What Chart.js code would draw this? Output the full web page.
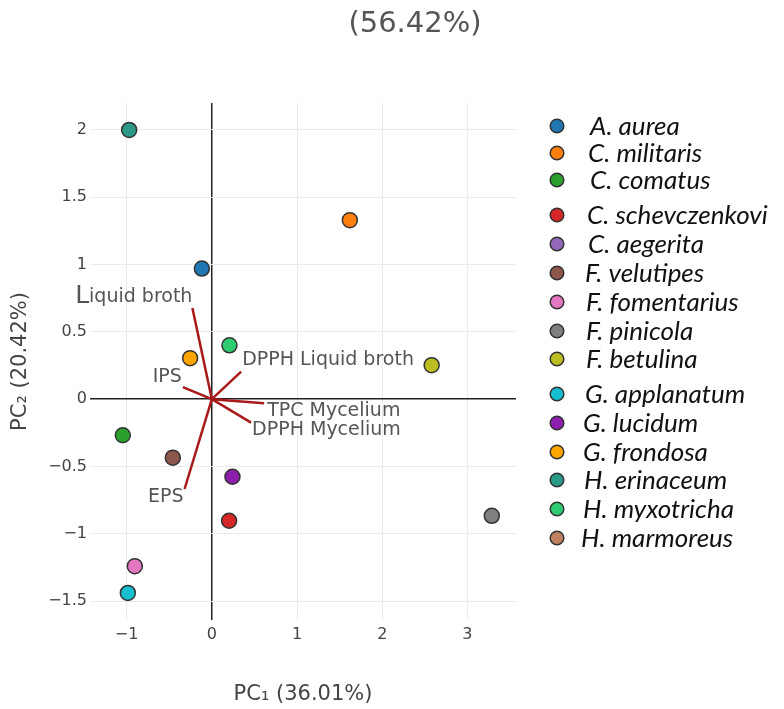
<!DOCTYPE html>
<html>
<head>
<meta charset="utf-8">
<title>PCA biplot</title>
<script src="https://cdn.jsdelivr.net/npm/chart.js@4.4.1/dist/chart.umd.min.js"></script>
<style>
  html, body { margin: 0; padding: 0; background: #ffffff; }
  #wrap { width: 784px; height: 709px; position: relative; }
</style>
</head>
<body>
<div id="wrap"><canvas id="biplot" width="784" height="709"></canvas></div>
<script>
// Species and their PCA scores (PC1, PC2); null = no score plotted
const species = ['A. aurea', 'C. militaris', 'C. comatus', 'C. schevczenkovi', 'C. aegerita',
  'F. velutipes', 'F. fomentarius', 'F. pinicola', 'F. betulina', 'G. applanatum',
  'G. lucidum', 'G. frondosa', 'H. erinaceum', 'H. myxotricha', 'H. marmoreus'];
const speciesColors = ['#1f77b4', '#ff7f0e', '#2ca02c', '#d62728', '#9467bd',
  '#8c564b', '#e377c2', '#7f7f7f', '#bcbd22', '#17becf',
  '#8e1fae', '#ffa500', '#2a9a86', '#2ecc71', '#c0825f'];
const pc1Scores = [-0.117, 1.62, -1.045, 0.203, null, -0.458, -0.904, 3.286, 2.58, -0.986, 0.242, -0.255, -0.97, 0.207, null];
const pc2Scores = [0.97, 1.33, -0.268, -0.903, null, -0.434, -1.24, -0.866, 0.253, -1.439, -0.576, 0.305, 2.0, 0.40, null];

// Variable loadings (vector tips)
const loadingNames = ['Liquid broth', 'DPPH Liquid broth', 'IPS', 'TPC Mycelium', 'DPPH Mycelium', 'EPS'];
const loadingPC1 = [-0.228, 0.344, -0.34, 0.614, 0.461, -0.32];
const loadingPC2 = [0.677, 0.205, 0.089, -0.03, -0.174, -0.667];

// Axis ticks
const xTicks = [-1, 0, 1, 2, 3];
const yTicks = [-1.5, -1, -0.5, 0, 0.5, 1, 1.5, 2];

// Label placement for each loading vector: [align, dx, dy]
const loadingLabelPlacement = [
  ['right', 0, -11], ['left', 1, -12], ['right', -1, -10],
  ['left', 3, 8], ['left', 1, 7], ['right', -1, 8]
];

// Legend row centres and text start
const legendRowY = [126, 153, 180, 215, 244, 273, 302, 331, 359, 394, 423, 452, 480, 509, 538];
const legendTextX = [590, 588, 590, 587, 588, 585, 586, 586, 586, 585, 583, 583, 584, 583, 581];

const labelFont = '19px "DejaVu Sans"';

const scoreDatasets = species.map((name, i) => ({
  label: name,
  data: pc1Scores[i] === null ? [] : [{ x: pc1Scores[i], y: pc2Scores[i] }],
  backgroundColor: speciesColors[i],
  borderColor: '#333333',
  borderWidth: 1.5,
  pointRadius: 7.5,
  showLine: false,
  order: 1
}));

const loadingDatasets = loadingNames.map((name, i) => ({
  label: name,
  data: [{ x: 0, y: 0 }, { x: loadingPC1[i], y: loadingPC2[i] }],
  borderColor: '#a81a1a',
  borderWidth: 2.5,
  pointRadius: 0,
  showLine: true,
  order: 2
}));

const biplotText = {
  id: 'biplotText',
  afterDatasetsDraw(chart) {
    const ctx = chart.ctx;
    const xs = chart.scales.x, ys = chart.scales.y;
    ctx.save();
    ctx.fillStyle = '#555555';
    ctx.textBaseline = 'middle';
    loadingNames.forEach((name, i) => {
      const [align, dx, dy] = loadingLabelPlacement[i];
      const px = xs.getPixelForValue(loadingPC1[i]) + dx;
      const py = ys.getPixelForValue(loadingPC2[i]) + dy;
      ctx.textAlign = align;
      ctx.font = labelFont;
      if (name === 'Liquid broth') {
        // tall initial capital
        ctx.textAlign = 'right';
        const rest = name.slice(1);
        ctx.fillText(rest, px, py);
        const w = ctx.measureText(rest).width;
        ctx.font = '25px "DejaVu Sans"';
        ctx.fillText(name[0], px - w, py - 1);
      } else {
        ctx.fillText(name, px, py);
      }
    });
    ctx.restore();
  },
  afterDraw(chart) {
    const ctx = chart.ctx;
    ctx.save();
    // heading
    ctx.fillStyle = '#555555';
    ctx.font = '29px "DejaVu Sans"';
    ctx.textAlign = 'center';
    ctx.textBaseline = 'middle';
    ctx.fillText('(56.42%)', 415, 24);
    // species legend
    ctx.textAlign = 'left';
    ctx.font = 'italic 26px Lato';
    species.forEach((name, i) => {
      const cy = legendRowY[i];
      ctx.beginPath();
      ctx.arc(557, cy, 6.8, 0, Math.PI * 2);
      ctx.fillStyle = speciesColors[i];
      ctx.fill();
      ctx.lineWidth = 1.5;
      ctx.strokeStyle = '#333333';
      ctx.stroke();
      ctx.fillStyle = '#111111';
      ctx.fillText(name, legendTextX[i], cy + 1);
    });
    ctx.restore();
  }
};

const gridColor = c => (c.tick && c.tick.value === 0) ? '#222222' : '#ebebeb';
const gridWidth = c => (c.tick && c.tick.value === 0) ? 1.5 : 1;
const minusSign = v => String(v).replace('-', '\u2212');

new Chart(document.getElementById('biplot'), {
  type: 'scatter',
  data: { datasets: [...scoreDatasets, ...loadingDatasets] },
  options: {
    responsive: false,
    animation: false,
    events: [],
    layout: { padding: { top: 103, right: 268, bottom: 0, left: 0 } },
    plugins: {
      legend: { display: false },
      tooltip: { enabled: false },
      title: { display: false }
    },
    scales: {
      x: {
        type: 'linear',
        min: -1.43,
        max: 3.57,
        afterBuildTicks: s => { s.ticks = xTicks.map(v => ({ value: v })); },
        afterFit: s => { s.height = 89; },
        border: { display: false },
        grid: { color: gridColor, lineWidth: gridWidth, drawTicks: false },
        ticks: { color: '#444444', font: { family: 'DejaVu Sans', size: 16 }, padding: 5, callback: minusSign },
        title: { display: true, text: 'PC\u2081 (36.01%)', color: '#444444',
                 font: { family: 'DejaVu Sans', size: 21 }, padding: { top: 0, bottom: 2 } }
      },
      y: {
        type: 'linear',
        min: -1.64,
        max: 2.2,
        afterBuildTicks: s => { s.ticks = yTicks.map(v => ({ value: v })); },
        afterFit: s => { s.width = 90; },
        border: { display: false },
        grid: { color: gridColor, lineWidth: gridWidth, drawTicks: false },
        ticks: { color: '#444444', font: { family: 'DejaVu Sans', size: 16 }, padding: 3, callback: minusSign },
        title: { display: true, text: 'PC\u2082 (20.42%)', color: '#444444',
                 font: { family: 'DejaVu Sans', size: 21 }, padding: { top: 8, bottom: 0 } }
      }
    }
  },
  plugins: [biplotText]
});
</script>
</body>
</html>
